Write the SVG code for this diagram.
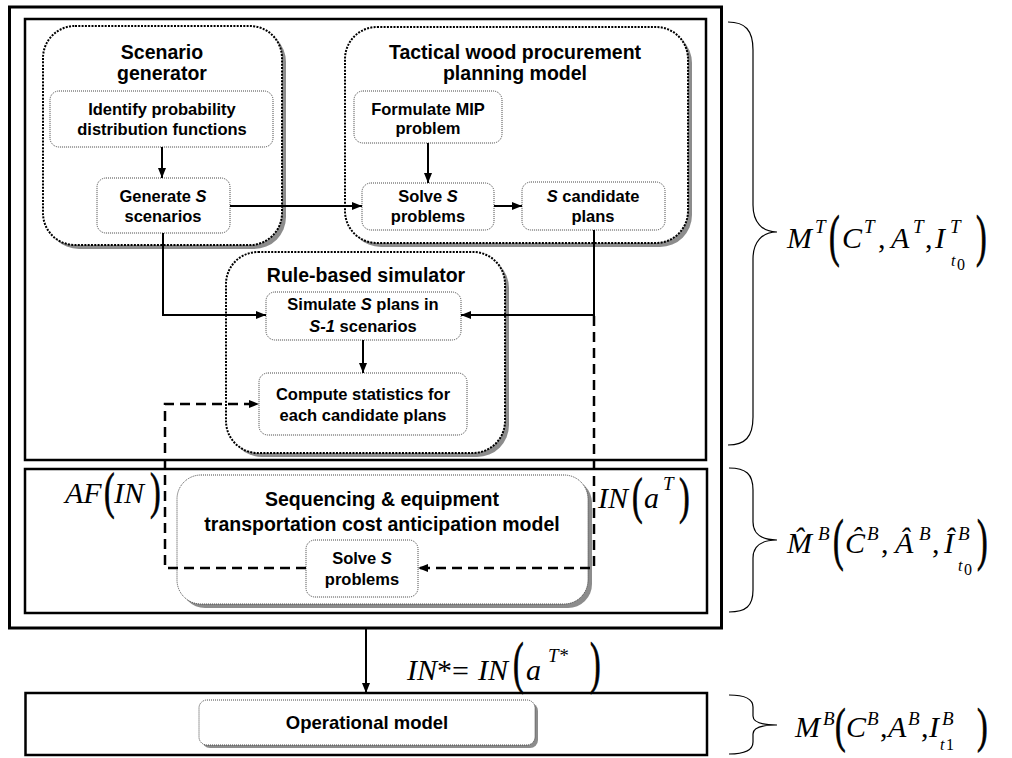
<svg xmlns="http://www.w3.org/2000/svg" width="1012" height="758" viewBox="0 0 1012 758">
<style>
.frame{fill:none;stroke:#000;stroke-width:3}
.cont{fill:#fff;stroke:#000;stroke-width:2;stroke-dasharray:2 1.3}
.shadow{fill:#8c8c8c;stroke:none}
.box{fill:#fff;stroke:#444;stroke-width:1;stroke-dasharray:1 1}
.t{font-family:"Liberation Sans",Arial,sans-serif;font-weight:bold;fill:#000;text-anchor:middle}
.title{font-size:19.5px}
.lbl{font-size:16.5px}
.m{font-family:"Liberation Serif","Times New Roman",serif;font-style:italic;font-size:30px;fill:#000}
.sup{font-size:19px}
.sub{font-size:16px}
.up{font-style:normal}
.par{font-family:"Liberation Serif","Times New Roman",serif;font-size:32px;fill:#000;stroke:#000;stroke-width:0.5}
.c{fill:none;stroke:#000;stroke-width:2}
.d{fill:none;stroke:#000;stroke-width:2.5;stroke-dasharray:10 6}
.brace{fill:none;stroke:#000;stroke-width:1.2}
</style>
<defs>
<marker id="ah" markerUnits="userSpaceOnUse" markerWidth="10" markerHeight="8" refX="10" refY="4" orient="auto">
<path d="M0,0 L10,4 L0,8 z" fill="#000"/>
</marker>
</defs>
<rect width="1012" height="758" fill="#fff"/>

<g id="frames">
<rect class="frame" x="9.5" y="7" width="712" height="621"/>
<rect class="frame" x="25" y="19" width="681" height="441" style="stroke-width:2.5"/>
<rect class="frame" x="25" y="469" width="682" height="144" style="stroke-width:2.5"/>
<rect class="frame" x="25.5" y="693" width="681.5" height="62" style="stroke-width:2.5"/>
</g>

<g id="scenario-generator">
<rect class="shadow" x="47" y="30" width="239" height="219" rx="32"/>
<rect class="cont" x="43" y="26" width="239" height="219" rx="32"/>
<text class="t title" x="162" y="59">Scenario</text>
<text class="t title" x="162" y="80">generator</text>
</g>
<g id="identify">
<rect class="box" x="50" y="91" width="223" height="56" rx="9"/>
<text class="t lbl" x="162" y="115">Identify probability</text>
<text class="t lbl" x="162" y="135">distribution functions</text>
</g>
<g id="generate">
<rect class="box" x="97" y="178" width="133" height="55" rx="9"/>
<text class="t lbl" x="163" y="202">Generate <tspan font-style="italic">S</tspan></text>
<text class="t lbl" x="163" y="222">scenarios</text>
</g>

<g id="tactical">
<rect class="shadow" x="349" y="31" width="343" height="216" rx="32"/>
<rect class="cont" x="345" y="27" width="343" height="216" rx="32"/>
<text class="t title" x="515" y="59">Tactical wood procurement</text>
<text class="t title" x="515" y="80">planning model</text>
</g>
<g id="formulate">
<rect class="box" x="354" y="91" width="148" height="52" rx="9"/>
<text class="t lbl" x="428" y="115">Formulate MIP</text>
<text class="t lbl" x="428" y="134">problem</text>
</g>
<g id="solve-top">
<rect class="box" x="362" y="183" width="132" height="47" rx="9"/>
<text class="t lbl" x="428" y="202">Solve <tspan font-style="italic">S</tspan></text>
<text class="t lbl" x="428" y="222">problems</text>
</g>
<g id="candidates">
<rect class="box" x="522" y="182" width="143" height="48" rx="9"/>
<text class="t lbl" x="593" y="202"><tspan font-style="italic">S</tspan> candidate</text>
<text class="t lbl" x="593" y="222">plans</text>
</g>

<g id="simulator">
<rect class="shadow" x="230" y="256" width="279" height="201" rx="32"/>
<rect class="cont" x="226" y="252" width="279" height="201" rx="32"/>
<text class="t title" x="366" y="282">Rule-based simulator</text>
</g>
<g id="simulate">
<rect class="box" x="266" y="292" width="195" height="48" rx="9"/>
<text class="t lbl" x="363" y="310">Simulate <tspan font-style="italic">S</tspan> plans in</text>
<text class="t lbl" x="363" y="332"><tspan font-style="italic">S-1</tspan> scenarios</text>
</g>
<g id="compute">
<rect class="box" x="259" y="373" width="208" height="62" rx="9"/>
<text class="t lbl" x="363" y="400">Compute statistics for</text>
<text class="t lbl" x="363" y="421">each candidate plans</text>
</g>

<g id="sequencing">
<rect class="shadow" x="181" y="479" width="411" height="129" rx="24"/>
<rect class="box" x="177" y="475" width="411" height="129" rx="24"/>
<text class="t title" x="382" y="506">Sequencing &amp; equipment</text>
<text class="t title" x="382" y="531">transportation cost anticipation model</text>
</g>
<g id="solve-bottom">
<rect class="box" x="306" y="540" width="112" height="57" rx="9"/>
<text class="t lbl" x="362" y="564">Solve <tspan font-style="italic">S</tspan></text>
<text class="t lbl" x="362" y="585">problems</text>
</g>

<g id="operational">
<rect class="shadow" x="202" y="703" width="336" height="45" rx="8"/>
<rect class="box" x="199" y="700" width="336" height="45" rx="8"/>
<text class="t" x="367" y="729" font-size="18.5">Operational model</text>
</g>

<g id="connectors">
<path class="c" d="M162,147 L162,178" marker-end="url(#ah)"/>
<path class="c" d="M230,206 L362,206" marker-end="url(#ah)"/>
<path class="c" d="M428,143 L428,183" marker-end="url(#ah)"/>
<path class="c" d="M494,206 L522,206" marker-end="url(#ah)"/>
<path class="c" d="M163,233 L163,315 L266,315" marker-end="url(#ah)"/>
<path class="c" d="M594,230 L594,315 L461,315" marker-end="url(#ah)"/>
<path class="c" d="M363,340 L363,373" marker-end="url(#ah)"/>
<path class="d" d="M594,316 L594,568 L418,568" marker-end="url(#ah)"/>
<path class="d" d="M306,568 L165,568 L165,404 L259,404" marker-end="url(#ah)"/>
<path class="c" d="M366,629 L366,693" marker-end="url(#ah)"/>
</g>

<g id="braces">
<path class="brace" d="M728,22 C745,22 753,30 753,50 L753,205 C753,222 762,232 777,232 C762,232 753,242 753,259 L753,417 C753,437 745,445 728,445"/>
<path class="brace" d="M729,468 C746,468 753,474 753,490 L753,522 C753,534 762,540 777,540 C762,540 753,546 753,558 L753,590 C753,606 746,612 729,612"/>
<path class="brace" d="M729,695 C746,695 753,699 753,707 L753,716 C753,722 762,725 777,725 C762,725 753,728 753,734 L753,742 C753,750 746,754 729,754"/>
</g>

<g id="formula-MT">
<text class="m" x="787" y="248">M</text>
<text class="m sup" x="815" y="233">T</text>
<text class="par" transform="translate(829,255) scale(1,1.75)">(</text>
<text class="m" x="842" y="248">C</text>
<text class="m sup" x="864" y="233">T</text>
<text class="m up" x="878" y="248">,</text>
<text class="m" x="891" y="248">A</text>
<text class="m sup" x="913" y="233">T</text>
<text class="m up" x="925" y="248">,</text>
<text class="m" x="935" y="248">I</text>
<text class="m sup" x="950" y="233">T</text>
<text class="m sub" x="951" y="266">t</text>
<text class="m sub up" x="957" y="270" font-size="12">0</text>
<text class="par" transform="translate(976,255) scale(1,1.75)">)</text>
</g>

<g id="formula-MB-hat">
<text class="m" x="787" y="553">M&#x302;</text>
<text class="m sup" x="818" y="540">B</text>
<text class="par" transform="translate(833,559) scale(1,1.75)">(</text>
<text class="m" x="845" y="553">C&#x302;</text>
<text class="m sup" x="867" y="540">B</text>
<text class="m up" x="881" y="553">,</text>
<text class="m" x="895" y="553">A&#x302;</text>
<text class="m sup" x="919" y="540">B</text>
<text class="m up" x="932" y="553">,</text>
<text class="m" x="944" y="553">I&#x302;</text>
<text class="m sup" x="958" y="540">B</text>
<text class="m sub" x="958" y="571">t</text>
<text class="m sub up" x="964" y="575" font-size="12">0</text>
<text class="par" transform="translate(977,559) scale(1,1.75)">)</text>
</g>

<g id="formula-MB">
<text class="m" x="795" y="737">M</text>
<text class="m sup" x="823" y="725">B</text>
<text class="par" transform="translate(835,742) scale(1,1.5)">(</text>
<text class="m" x="846" y="737">C</text>
<text class="m sup" x="867" y="725">B</text>
<text class="m up" x="880" y="737">,</text>
<text class="m" x="888" y="737">A</text>
<text class="m sup" x="908" y="725">B</text>
<text class="m up" x="921" y="737">,</text>
<text class="m" x="929" y="737">I</text>
<text class="m sup" x="942" y="725">B</text>
<text class="m sub" x="940" y="750">t</text>
<text class="m sub up" x="946" y="750">1</text>
<text class="par" transform="translate(977,742) scale(1,1.5)">)</text>
</g>

<g id="label-AF">
<text class="m" x="65" y="503" font-size="33">AF</text>
<text class="par" transform="translate(104,508) scale(1,1.6)">(</text>
<text class="m" x="114" y="503" font-size="33">IN</text>
<text class="par" transform="translate(150,508) scale(1,1.6)">)</text>
</g>

<g id="label-INaT">
<text class="m" x="598" y="508" font-size="33">IN</text>
<text class="par" transform="translate(632,513) scale(1,1.6)">(</text>
<text class="m" x="644" y="508" font-size="33">a</text>
<text class="m sup" x="663" y="490" font-size="20">T</text>
<text class="par" transform="translate(679,513) scale(1,1.6)">)</text>
</g>

<g id="label-INstar">
<text class="m" x="407" y="680" font-size="33">IN</text>
<text class="m up" x="437" y="680" font-size="30">*</text>
<text class="m up" x="452" y="681" font-size="40">=</text>
<text class="m" x="478" y="680" font-size="33">IN</text>
<text class="par" transform="translate(513,682) scale(1,1.75)">(</text>
<text class="m" x="526" y="680" font-size="33">a</text>
<text class="m sup" x="548" y="662" font-size="20">T*</text>
<text class="par" transform="translate(590,682) scale(1,1.75)">)</text>
</g>
</svg>
